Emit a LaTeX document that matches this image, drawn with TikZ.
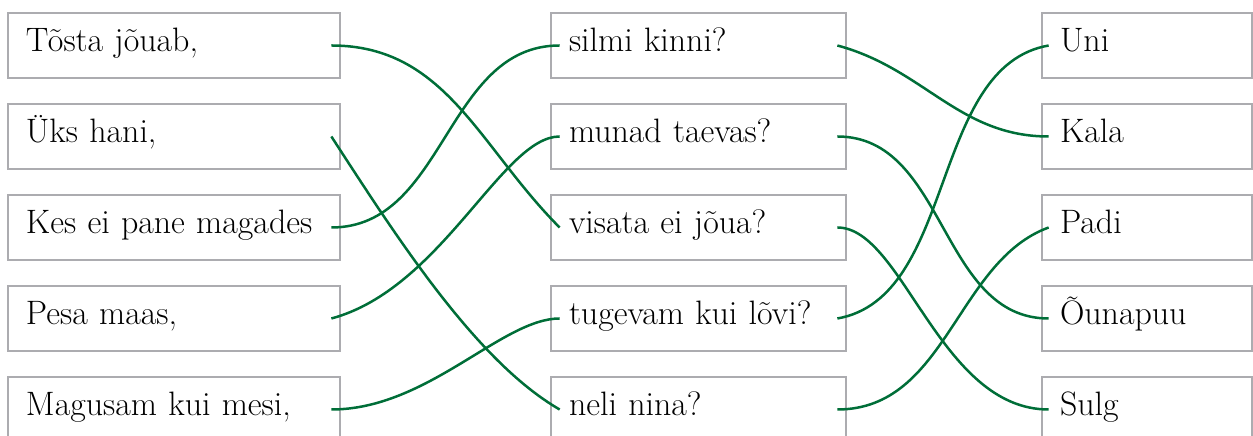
\documentclass[tikz,border=0pt]{standalone}
\usetikzlibrary{calc, positioning}

\definecolor{boxgray}{RGB}{172,172,176}
\definecolor{linkgreen}{RGB}{0,110,56}

\begin{document}
\begin{tikzpicture}[%
    x=0.5bp, y=0.5bp,     % one unit = one pixel of the layout
    every node/.style={font=\fontsize{17}{20}\selectfont},
    cardbox/.style={draw=boxgray, line width=1.35bp, minimum height=32.5bp,
        inner xsep=9bp, inner ysep=0pt, align=left,
        text height=0.7em, text depth=0.1em},
    leftcard/.style={cardbox, text width=148bp},
    midcard/.style={cardbox, text width=129.5bp},
    rightcard/.style={cardbox, text width=87bp},
    link/.style={draw=linkgreen, line width=1.25bp},
    ]

\useasboundingbox (0,0) rectangle (1253,436);

%==================================================
% Coordinates
%==================================================

\coordinate (C1) at (174,390.5);
\coordinate (C2) at (698.5,390.5);
\coordinate (C3) at (1147,390.5);

%==================================================
% First column
%==================================================
\node[leftcard] (s1) at (C1)                {Tõsta jõuab,};
\node[leftcard] (s2) at ($(C1)+(0,-91)$)    {Üks hani,};
\node[leftcard] (s3) at ($(C1)+(0,-182)$)   {Kes ei pane magades};
\node[leftcard] (s4) at ($(C1)+(0,-273)$)   {Pesa maas,};
\node[leftcard] (s5) at ($(C1)+(0,-364)$)   {Magusam kui mesi,};

%==================================================
% Middle column
%==================================================
\node[midcard] (m1) at (C2)                 {silmi kinni?};
\node[midcard] (m2) at ($(C2)+(0,-91)$)     {munad taevas?};
\node[midcard] (m3) at ($(C2)+(0,-182)$)    {visata ei jõua?};
\node[midcard] (m4) at ($(C2)+(0,-273)$)    {tugevam kui lõvi?};
\node[midcard] (m5) at ($(C2)+(0,-364)$)    {neli nina?};

%==================================================
% Answers
%==================================================
\node[rightcard] (a1) at (C3)               {Uni};
\node[rightcard] (a2) at ($(C3)+(0,-91)$)   {Kala};
\node[rightcard] (a3) at ($(C3)+(0,-182)$)  {Padi};
\node[rightcard] (a4) at ($(C3)+(0,-273)$)  {Õunapuu};
\node[rightcard] (a5) at ($(C3)+(0,-364)$)  {Sulg};

%==================================================
% Links
%==================================================
% First column to middle column
\draw[link] ([xshift=-5bp]s1.east) to[out=0, in=135] ([xshift=5bp]m3.west);
\draw[link] ([xshift=-5bp]s2.east) to[out=-57, in=150, out looseness=0.85, in looseness=0.7] ([xshift=5bp]m5.west);
\draw[link] ([xshift=-5bp]s3.east) to[out=0, in=180] ([xshift=5bp]m1.west);
\draw[link] ([xshift=-5bp]s4.east) to[out=15, in=180, in looseness=0.5] ([xshift=5bp]m2.west);
\draw[link] ([xshift=-5bp]s5.east) to[out=0, in=180, in looseness=0.6] ([xshift=5bp]m4.west);

% Middle column to answers
\draw[link] ([xshift=-5bp]m1.east) to[out=-15, in=180] ([xshift=4bp]a2.west);
\draw[link] ([xshift=-5bp]m2.east) to[out=0, in=180] ([xshift=4bp]a4.west);
\draw[link] ([xshift=-5bp]m3.east) to[out=0, in=180, out looseness=0.6] ([xshift=4bp]a5.west);
\draw[link] ([xshift=-5bp]m4.east) to[out=10, in=190, looseness=0.9] ([xshift=4bp]a1.west);
\draw[link] ([xshift=-5bp]m5.east) to[out=0, in=200, in looseness=0.9] ([xshift=4bp]a3.west);

%==================================================
\end{tikzpicture}
\end{document}
